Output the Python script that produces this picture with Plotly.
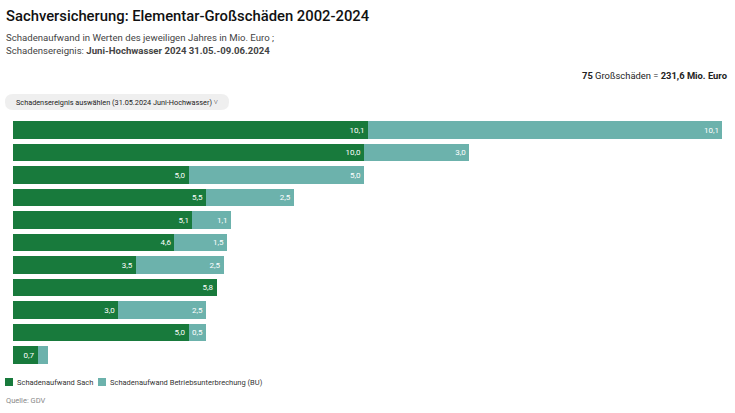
import plotly.graph_objects as go

rows = ["R1", "R2", "R3", "R4", "R5", "R6", "R7", "R8", "R9", "R10", "R11"]
sach = [10.1, 10.0, 5.0, 5.5, 5.1, 4.6, 3.5, 5.8, 3.0, 5.0, 0.7]
bu = [10.1, 3.0, 5.0, 2.5, 1.1, 1.5, 2.5, 0.0, 2.5, 0.5, 0.3]
series_names = ["Schadenaufwand Sach", "Schadenaufwand Betriebsunterbrechung (BU)"]

C_SACH = "#187a3c"
C_BU = "#6cb2ac"
FONT = "Roboto"

W, H = 735, 413


def fx(p):
    return p / W


def fy(p):
    return 1 - p / H


def fmt(v):
    return f"{v:.1f}".replace(".", ",") if v >= 0.4 else ""


fig = go.Figure()
for vals, name, col in [(sach, series_names[0], C_SACH), (bu, series_names[1], C_BU)]:
    fig.add_trace(go.Bar(
        y=rows, x=vals, orientation="h", name=name,
        marker=dict(color=col, line=dict(width=0)),
        text=[fmt(v) for v in vals], textposition="inside", insidetextanchor="end",
        textfont=dict(color="white", size=8, family=FONT), textangle=0,
        showlegend=False,
    ))

max_total = max(s + b for s, b in zip(sach, bu))


def ann(text, x, y, xanchor, size, color, weight=None):
    f = dict(size=size, family=FONT, color=color)
    if weight:
        f["weight"] = weight
    return dict(text=text, x=fx(x), y=fy(y), xref="paper", yref="paper",
                xanchor=xanchor, yanchor="middle", showarrow=False, font=f)


annotations = [
    ann("Sachversicherung: Elementar-Großschäden 2002-2024", 4, 16, "left", 14.8, "#111111", 500),
    ann("Schadenaufwand in Werten des jeweiligen Jahres in Mio. Euro ;", 4, 37, "left", 9.6, "#444444"),
    ann("Schadensereignis: <b>Juni-Hochwasser 2024 31.05.-09.06.2024</b>", 4, 51, "left", 9.6, "#444444"),
    ann("<b>75</b> Großschäden = <b>231,6 Mio. Euro</b>", 729, 75, "right", 9.4, "#222222"),
    ann("Schadensereignis auswählen (31.05.2024 Juni-Hochwasser) ˅", 14, 102, "left", 7.3, "#222222"),
    ann("Quelle: GDV", 4, 400, "left", 7.5, "#888888"),
    ann(series_names[0], 15, 382, "left", 7.5, "#333333"),
    ann(series_names[1], 108, 382, "left", 7.5, "#333333"),
]

# rounded pill for the dropdown
x0, x1, y0, y1 = fx(5), fx(229), fy(110), fy(94)
rx = 8 / W
ry = 8 / H
path = (f"M {x0+rx},{y0} L {x1-rx},{y0} Q {x1},{y0} {x1},{y0+ry} "
        f"L {x1},{y1-ry} Q {x1},{y1} {x1-rx},{y1} L {x0+rx},{y1} "
        f"Q {x0},{y1} {x0},{y1-ry} L {x0},{y0+ry} Q {x0},{y0} {x0+rx},{y0} Z")

shapes = [
    dict(type="path", path=path, xref="paper", yref="paper",
         fillcolor="#efefef", line=dict(width=0), layer="below"),
    dict(type="rect", xref="paper", yref="paper", x0=fx(5), x1=fx(13), y0=fy(386), y1=fy(378),
         fillcolor=C_SACH, line=dict(width=0)),
    dict(type="rect", xref="paper", yref="paper", x0=fx(98), x1=fx(106), y0=fy(386), y1=fy(378),
         fillcolor=C_BU, line=dict(width=0)),
]

fig.update_layout(
    width=W, height=H,
    margin=dict(l=0, r=0, t=0, b=0, pad=0, autoexpand=False),
    barmode="stack", bargap=0.24,
    paper_bgcolor="white", plot_bgcolor="white",
    font=dict(family=FONT),
    xaxis=dict(range=[0, max_total], visible=False, fixedrange=True,
               domain=[fx(13), fx(722)]),
    yaxis=dict(autorange="reversed", visible=False, fixedrange=True,
               domain=[fy(366.25), fy(118.75)]),
    showlegend=False,
    annotations=annotations,
    shapes=shapes,
    uniformtext=dict(mode="show", minsize=8),
)

fig.write_html("out.html", config={"displayModeBar": False},
               post_script="document.body.style.margin='0';")
